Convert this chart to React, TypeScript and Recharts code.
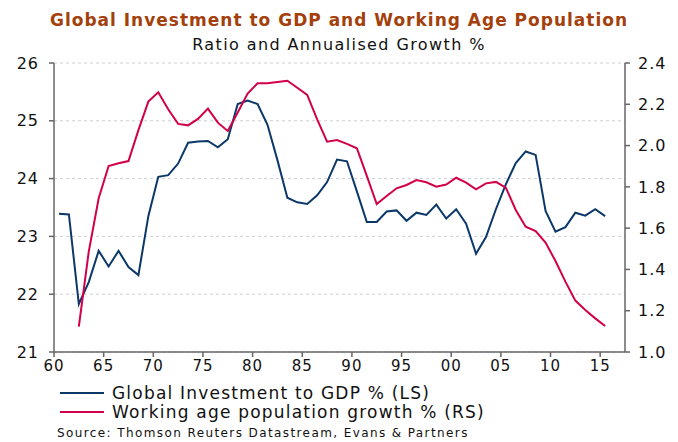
import { CartesianGrid, Line, LineChart, XAxis, YAxis } from "recharts";

// annual observations, plotted mid-year
const years = [
  1960.5, 1961.5, 1962.5, 1963.5, 1964.5, 1965.5, 1966.5, 1967.5, 1968.5, 1969.5,
  1970.5, 1971.5, 1972.5, 1973.5, 1974.5, 1975.5, 1976.5, 1977.5, 1978.5, 1979.5,
  1980.5, 1981.5, 1982.5, 1983.5, 1984.5, 1985.5, 1986.5, 1987.5, 1988.5, 1989.5,
  1990.5, 1991.5, 1992.5, 1993.5, 1994.5, 1995.5, 1996.5, 1997.5, 1998.5, 1999.5,
  2000.5, 2001.5, 2002.5, 2003.5, 2004.5, 2005.5, 2006.5, 2007.5, 2008.5, 2009.5,
  2010.5, 2011.5, 2012.5, 2013.5, 2014.5, 2015.5,
];

const investmentToGdp = [
  23.39, 23.38, 21.83, 22.21, 22.75, 22.48, 22.75, 22.47, 22.33, 23.35,
  24.03, 24.06, 24.26, 24.62, 24.64, 24.65, 24.54, 24.68, 25.29, 25.35,
  25.29, 24.93, 24.32, 23.67, 23.59, 23.56, 23.71, 23.94, 24.33, 24.3,
  23.78, 23.25, 23.25, 23.43, 23.45, 23.27, 23.41, 23.37, 23.55, 23.31,
  23.47, 23.22, 22.7, 22.99, 23.47, 23.9, 24.27, 24.47, 24.41, 23.44,
  23.08, 23.16, 23.41, 23.36, 23.47, 23.35,
];

const workingAgeGrowth = [
  null, null, 1.123, 1.486, 1.745, 1.901, 1.914, 1.925, 2.075, 2.213,
  2.258, 2.176, 2.105, 2.098, 2.129, 2.179, 2.111, 2.071, 2.16, 2.252,
  2.302, 2.302, 2.308, 2.314, 2.28, 2.245, 2.127, 2.019, 2.027, 2.008,
  1.987, 1.853, 1.717, 1.756, 1.793, 1.809, 1.833, 1.822, 1.801, 1.811,
  1.844, 1.82, 1.788, 1.817, 1.824, 1.796, 1.688, 1.607, 1.586, 1.53,
  1.441, 1.341, 1.249, 1.204, 1.163, 1.126,
];

const xTicks = [1960, 1965, 1970, 1975, 1980, 1985, 1990, 1995, 2000, 2005, 2010, 2015];
const leftTicks = [21, 22, 23, 24, 25, 26];
const rightTicks = [1.0, 1.2, 1.4, 1.6, 1.8, 2.0, 2.2, 2.4];

const data = years.map((year, i) => ({
  year,
  investment: investmentToGdp[i],
  workingAge: workingAgeGrowth[i],
}));

const BLUE = "#0b3868";
const RED = "#d2004a";
const FONT = "'DejaVu Sans', Verdana, sans-serif";
const yTickStyle = { fontSize: 16, fill: "#111", fontFamily: FONT, letterSpacing: 1 };
const xTickStyle = { fontSize: 15, fill: "#111", fontFamily: FONT, letterSpacing: 1 };
const axisStroke = { stroke: "#666", strokeWidth: 1.5 };

export default function App() {
  return (
    <div
      style={{
        position: "absolute",
        left: 0,
        top: 0,
        width: 678,
        height: 442,
        background: "#fff",
        fontFamily: FONT,
        color: "#111",
      }}
    >
      <div
        style={{
          position: "absolute",
          top: 10,
          left: 0,
          width: 678,
          textAlign: "center",
          fontSize: 17,
          lineHeight: "20px",
          letterSpacing: 1,
          fontWeight: "bold",
          color: "#a3400c",
        }}
      >
        Global Investment to GDP and Working Age Population
      </div>
      <div
        style={{
          position: "absolute",
          top: 35,
          left: 0,
          width: 678,
          textAlign: "center",
          fontSize: 16,
          lineHeight: "20px",
          letterSpacing: 1.4,
        }}
      >
        Ratio and Annualised Growth %
      </div>

      <LineChart
        width={678}
        height={442}
        data={data}
        margin={{ top: 63, right: 8, bottom: 60, left: 14 }}
      >
        <CartesianGrid
          yAxisId="left"
          vertical={false}
          strokeDasharray="3 3"
          stroke="#cfcfcf"
        />
        <XAxis
          dataKey="year"
          type="number"
          domain={[1960, 2017.5]}
          ticks={xTicks}
          tickFormatter={(v) => String(v % 100).padStart(2, "0")}
          allowDataOverflow
          height={30}
          tick={xTickStyle}
          tickSize={5}
          tickMargin={3}
          axisLine={axisStroke}
          tickLine={axisStroke}
        />
        <YAxis
          yAxisId="left"
          domain={[21, 26]}
          ticks={leftTicks}
          width={40}
          tick={yTickStyle}
          tickSize={5}
          tickMargin={10}
          axisLine={axisStroke}
          tickLine={axisStroke}
        />
        <YAxis
          yAxisId="right"
          orientation="right"
          domain={[1.0, 2.4]}
          ticks={rightTicks}
          tickFormatter={(v) => v.toFixed(1)}
          width={45}
          tick={yTickStyle}
          tickSize={5}
          tickMargin={8}
          axisLine={axisStroke}
          tickLine={axisStroke}
        />
        <Line
          yAxisId="left"
          type="linear"
          dataKey="investment"
          stroke={BLUE}
          strokeWidth={2}
          dot={false}
          isAnimationActive={false}
        />
        <Line
          yAxisId="right"
          type="linear"
          dataKey="workingAge"
          stroke={RED}
          strokeWidth={2}
          dot={false}
          connectNulls={false}
          isAnimationActive={false}
        />
      </LineChart>

      {[
        { label: "Global Investment to GDP % (LS)", color: BLUE, top: 383 },
        { label: "Working age population growth % (RS)", color: RED, top: 402 },
      ].map((item) => (
        <div
          key={item.label}
          style={{
            position: "absolute",
            left: 60,
            top: item.top,
            height: 20,
            display: "flex",
            alignItems: "center",
            fontSize: 17,
            lineHeight: "20px",
            letterSpacing: 1.2,
          }}
        >
          <span
            style={{
              display: "inline-block",
              width: 44,
              height: 2,
              background: item.color,
              marginRight: 8,
            }}
          />
          {item.label}
        </div>
      ))}

      <div
        style={{
          position: "absolute",
          left: 57,
          top: 425,
          fontSize: 12,
          lineHeight: "16px",
          letterSpacing: 1.4,
        }}
      >
        Source: Thomson Reuters Datastream, Evans &amp; Partners
      </div>
    </div>
  );
}
